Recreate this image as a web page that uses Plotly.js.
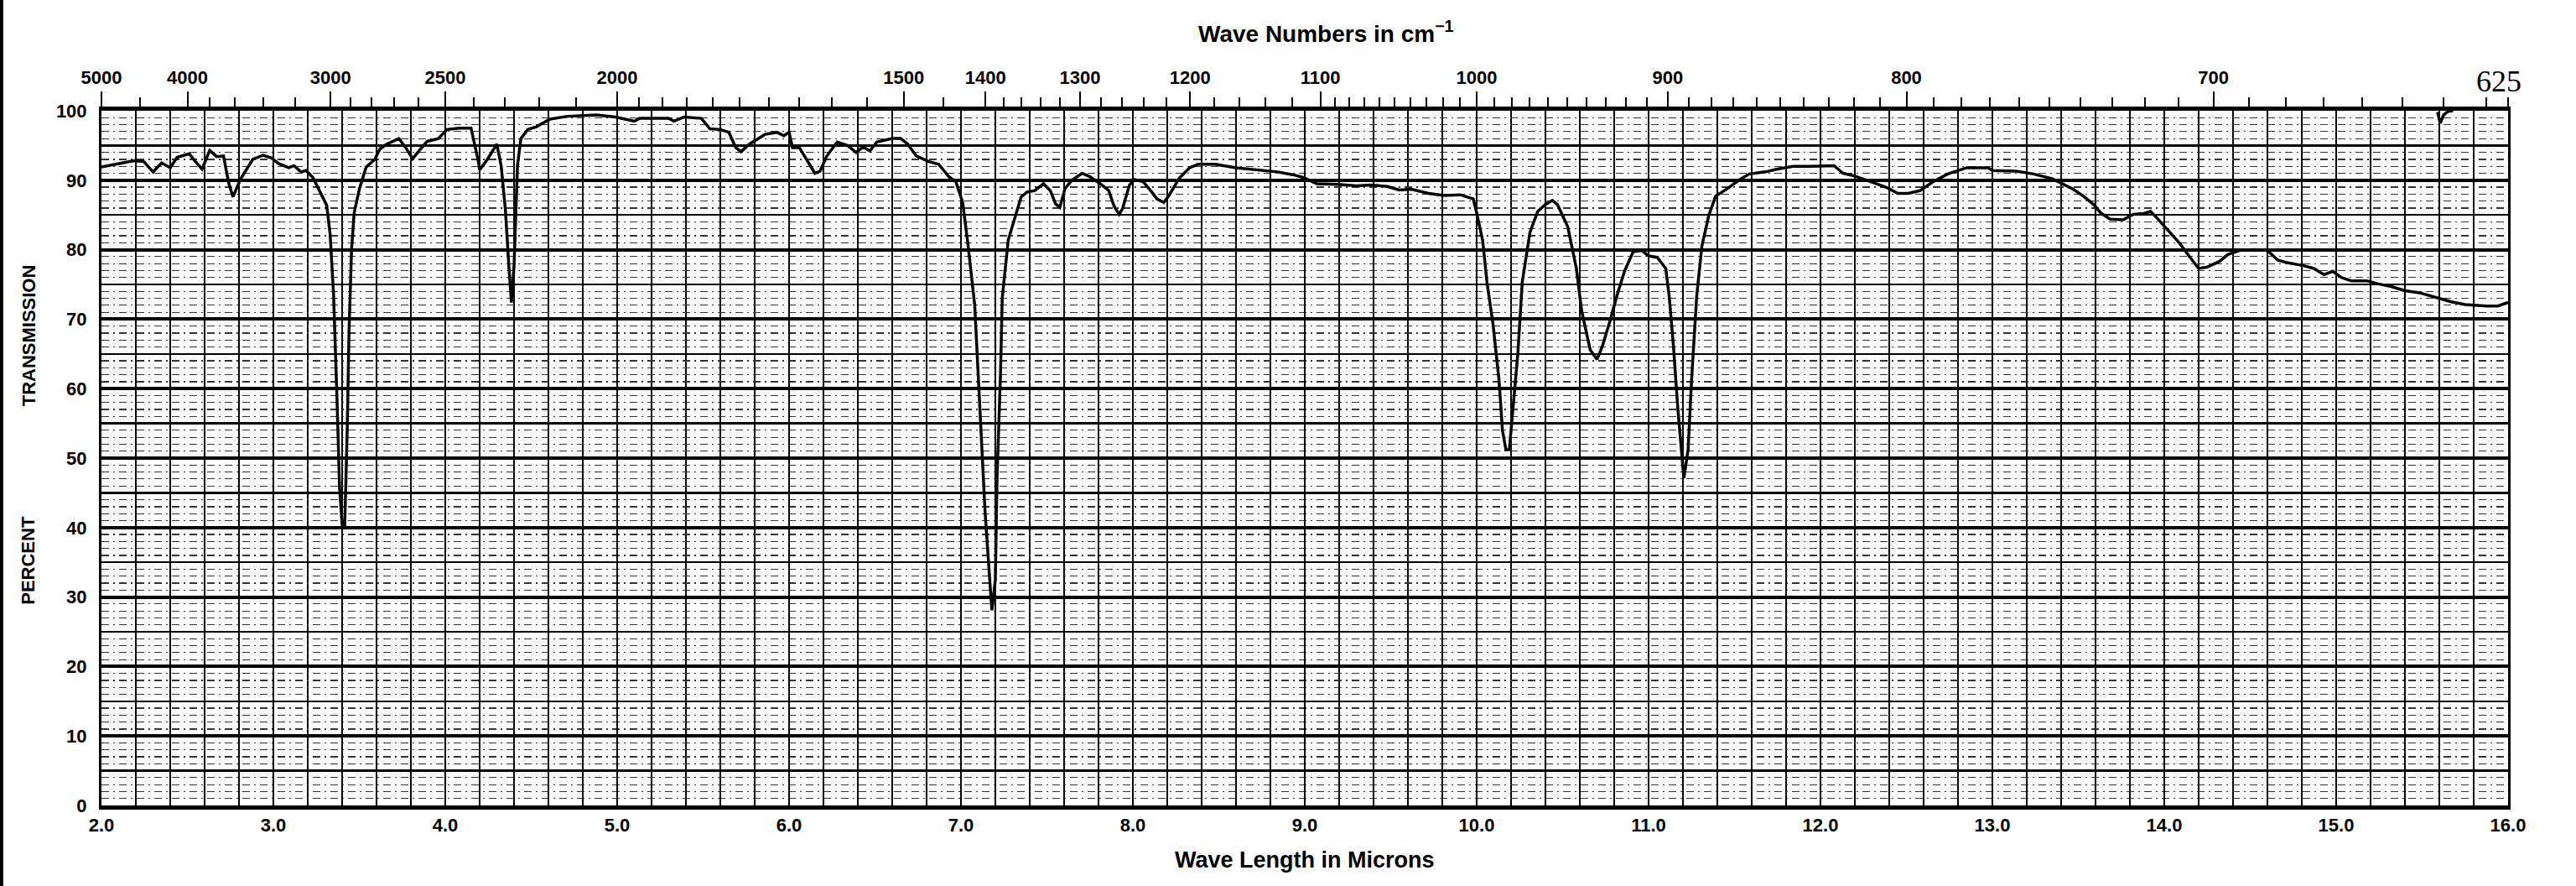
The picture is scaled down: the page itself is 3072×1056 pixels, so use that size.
<!DOCTYPE html>
<html>
<head>
<meta charset="utf-8">
<script src="https://cdn.plot.ly/plotly-3.0.1.min.js"></script>
<style>html,body{margin:0;padding:0;background:#fff;}#chart{width:3072px;height:1056px;}</style>
</head>
<body>
<div id="chart"></div>
<script>
// Spectrum: wavelength (microns) and percent transmission
const wavelength = [
2.00,2.07,2.19,2.245,2.30,2.35,2.40,2.44,2.51,2.55,2.585,2.63,2.67,2.71,2.74,2.765,2.81,2.88,2.94,2.99,
3.03,3.09,3.12,3.16,3.19,3.23,3.27,3.31,3.33,3.35,3.37,3.385,3.40,3.415,3.43,3.44,3.455,3.47,3.50,3.54,
3.59,3.62,3.66,3.73,3.77,3.81,3.85,3.895,3.96,4.01,4.08,4.15,4.19,4.20,4.245,4.30,4.325,4.35,4.37,4.385,
4.40,4.42,4.44,4.48,4.53,4.61,4.71,4.88,4.99,5.10,5.13,5.30,5.33,5.39,5.49,5.54,
5.60,5.65,5.69,5.72,5.77,5.82,5.86,5.93,5.97,6.00,6.02,6.06,6.11,6.15,6.18,6.22,6.28,6.34,6.39,6.43,
6.47,6.51,6.60,6.65,6.69,6.74,6.81,6.87,6.93,6.97,7.01,7.04,7.08,7.11,7.14,7.17,7.18,7.20,7.21,7.23,
7.24,7.275,7.315,7.35,7.385,7.43,7.48,7.52,7.55,7.575,7.605,7.645,7.705,7.75,7.81,7.86,7.89,7.92,7.94,7.98,
8.01,8.06,8.11,8.14,8.18,8.21,8.27,8.33,8.38,8.48,8.60,8.72,8.84,8.93,8.99,9.07,9.19,
9.30,9.385,9.48,9.55,9.62,9.72,9.81,9.905,9.98,10.00,10.035,10.06,10.095,10.13,10.15,10.17,10.19,10.21,10.24,10.265,
10.31,10.355,10.40,10.44,10.47,10.53,10.58,10.61,10.66,10.70,10.73,10.78,10.815,10.86,10.91,10.96,11.00,11.05,11.10,11.12,
11.145,11.17,11.19,11.205,11.23,11.25,11.28,11.31,11.35,11.39,11.465,11.525,11.585,11.68,11.75,11.84,11.94,12.08,12.13,12.20,
12.29,12.39,12.45,12.51,12.58,12.65,12.74,12.85,12.975,
13.00,13.14,13.24,13.35,13.41,13.47,13.53,13.59,13.63,13.685,13.76,13.82,13.88,13.92,13.96,14.02,14.09,14.15,14.20,14.25,
14.32,14.37,14.44,14.52,14.60,14.66,14.72,14.81,14.87,14.93,14.98,15.03,15.09,15.18,15.24,15.32,15.40,15.485,15.59,15.67,
15.75,15.81,15.875,15.94,16.00
];
const transmission = [
91.9,92.2,92.8,92.7,91.2,92.5,91.8,93.3,93.8,92.6,91.6,94.3,93.4,93.5,89.6,87.6,90.2,93.0,93.6,93.2,
92.4,91.8,92.1,91.2,91.4,90.4,88.3,86.4,82.3,73.7,58.7,45.8,40.4,40.2,54.4,68.1,80.1,85.3,88.7,91.9,
93.0,94.5,95.2,96.0,94.7,93.1,94.3,95.6,96.0,97.3,97.5,97.5,93.0,91.5,93.0,95.2,92.1,85.7,77.6,72.4,
77.6,92.1,96.0,97.3,97.7,98.8,99.2,99.4,99.1,98.5,98.9,98.9,98.5,99.1,98.9,97.4,
97.3,96.9,94.7,94.1,95.2,96.0,96.6,96.9,96.4,96.9,94.7,94.7,92.7,91.0,91.3,93.5,95.5,95.0,94.0,94.8,
94.2,95.5,96.0,96.0,95.2,93.5,92.7,92.3,90.5,89.8,86.8,80.9,72.0,57.2,42.4,31.5,28.1,32.5,47.3,62.1,
73.0,81.4,84.8,87.6,88.3,88.5,89.5,88.5,86.6,86.1,88.8,90.0,91.0,90.5,89.5,88.5,86.3,85.1,85.9,89.3,
90.1,89.8,88.3,87.3,86.8,87.8,90.3,91.8,92.3,92.3,91.8,91.5,91.2,90.8,90.4,89.5,89.4,
89.2,89.3,89.1,88.6,88.7,88.1,87.8,87.9,87.3,85.3,81.3,75.3,69.3,61.2,54.0,51.2,51.2,57.2,65.2,75.3,
82.5,85.5,86.5,87.1,86.5,83.3,77.3,71.3,65.6,64.2,66.0,70.1,73.3,76.9,79.7,79.9,79.1,78.9,77.3,73.3,
66.0,57.2,51.2,47.1,51.2,61.2,73.3,80.5,84.9,87.7,88.9,90.0,90.9,91.2,91.6,92.0,92.0,92.1,91.0,90.6,
89.8,88.9,88.1,88.1,88.5,89.7,90.9,91.8,91.8,
91.4,91.3,90.9,90.2,89.5,88.7,87.7,86.5,85.3,84.4,84.3,85.1,85.2,85.5,84.5,82.9,80.9,78.9,77.3,77.5,
78.3,79.3,79.9,80.0,79.9,78.5,78.1,77.7,77.3,76.4,76.9,76.0,75.5,75.5,75.1,74.7,74.1,73.8,73.1,72.5,
72.1,72.0,71.9,71.9,72.4
];
// Small pen stroke near the top right corner
const penMarkWavelength = [15.59, 15.605, 15.625, 15.65, 15.68];
const penMarkTransmission = [99.8, 98.2, 99.4, 99.9, 100.0];

// Bottom axis labels (microns)
const micronTicks = [2,3,4,5,6,7,8,9,10,11,12,13,14,15,16];
const micronLabels = ["2.0","3.0","4.0","5.0","6.0","7.0","8.0","9.0","10.0","11.0","12.0","13.0","14.0","15.0","16.0"];
// Top axis (wave numbers, cm-1)
const waveNumberLabelled = [5000,4000,3000,2500,2000,1500,1400,1300,1200,1100,1000,900,800,700];
const waveNumberMinor = [4500,3800,3600,3400,3200,
  2900,2800,2700,2600,2400,2300,2200,2100,
  1950,1900,1850,1800,1750,1700,1650,1600,1550,1450,
  1380,1360,1340,1320,1280,1260,1240,1220,1180,1160,1140,1120,
  1090,1080,1070,1060,1050,1040,1030,1020,1010,
  990,980,970,960,950,940,930,920,910,
  890,880,870,860,850,840,830,820,810,
  790,780,770,760,750,740,730,720,710,
  690,680,670,660,650,640,630,625];
// Left axis labels
const percentTicks = [0,10,20,30,40,50,60,70,80,90,100];

const toMicrons = w => 10000 / w;
const FONT = 'Liberation Sans, Arial, sans-serif';

const traces = [
  {x: wavelength, y: transmission, type: 'scatter', mode: 'lines', xaxis: 'x', yaxis: 'y',
   line: {color: '#000', width: 3.5, shape: 'linear'}, hoverinfo: 'skip'},
  {x: penMarkWavelength, y: penMarkTransmission, type: 'scatter', mode: 'lines', xaxis: 'x2', yaxis: 'y2',
   line: {color: '#000', width: 3.5}, hoverinfo: 'skip'}
];

const layout = {
  width: 3072, height: 1056,
  paper_bgcolor: '#fff', plot_bgcolor: '#fff',
  showlegend: false,
  margin: {l: 121, r: 81, t: 132, b: 96, pad: 0},
  font: {family: FONT, color: '#000'},
  xaxis: {
    range: [2, 16], tickmode: 'array', tickvals: micronTicks, ticktext: micronLabels,
    ticks: '', showgrid: true, gridcolor: '#000', gridwidth: 2.5,
    minor: {tick0: 2, dtick: 0.2, showgrid: true, gridcolor: '#000', gridwidth: 2},
    showline: true, linecolor: '#000', linewidth: 5, mirror: true, zeroline: false,
    tickfont: {family: FONT, size: 22, weight: 'bold', color: '#000'}, ticklabelstandoff: 0
  },
  xaxis2: {
    overlaying: 'x', side: 'top', anchor: 'y2', range: [2, 16],
    tickmode: 'array', tickvals: waveNumberLabelled.map(toMicrons), ticktext: waveNumberLabelled.map(String),
    ticks: 'outside', ticklen: 22, tickwidth: 2, tickcolor: '#000',
    minor: {tickmode: 'array', tickvals: waveNumberMinor.map(toMicrons), ticks: 'outside', ticklen: 15, tickwidth: 2, tickcolor: '#000', showgrid: false},
    showgrid: false, showline: false, zeroline: false,
    tickfont: {family: FONT, size: 22, weight: 'bold', color: '#000'}
  },
  yaxis: {
    range: [0, 100], tickmode: 'array', tickvals: percentTicks, ticktext: percentTicks.map(String),
    ticks: '', showgrid: true, gridcolor: '#000', gridwidth: 4,
    minor: {tick0: 0, dtick: 1, showgrid: true, gridcolor: '#333', gridwidth: 1.2, griddash: '9px,5px,2px,5px'},
    showline: true, linecolor: '#000', linewidth: 3, mirror: true, zeroline: false,
    tickfont: {family: FONT, size: 22, weight: 'bold', color: '#000'}, ticklabelstandoff: 10
  },
  yaxis2: {
    overlaying: 'y', anchor: 'x2', range: [0, 100], tick0: 0, dtick: 5,
    showgrid: true, gridcolor: '#000', gridwidth: 2.5, showticklabels: false, ticks: '',
    zeroline: false, showline: false
  },
  annotations: [
    {text: '<b>Wave Numbers in cm<sup>−1</sup></b>', xref: 'paper', yref: 'paper', x: 0.509, y: 1.113,
     xanchor: 'center', yanchor: 'middle',
     showarrow: false, font: {family: FONT, size: 28, color: '#000'}},
    {text: '<b>Wave Length in Microns</b>', xref: 'paper', yref: 'paper', x: 0.5, y: -0.0785,
     xanchor: 'center', yanchor: 'middle',
     showarrow: false, font: {family: FONT, size: 27, color: '#000'}},
    {text: '<b>TRANSMISSION</b>', xref: 'paper', yref: 'paper', x: -0.0303, y: 0.676, textangle: -90,
     xanchor: 'center', yanchor: 'middle',
     showarrow: false, font: {family: FONT, size: 22, color: '#000'}},
    {text: '<b>PERCENT</b>', xref: 'paper', yref: 'paper', x: -0.0303, y: 0.353, textangle: -90,
     xanchor: 'center', yanchor: 'middle',
     showarrow: false, font: {family: FONT, size: 22, color: '#000'}},
    {text: '625', xref: 'paper', yref: 'paper', x: 0.9962, y: 1.042,
     xanchor: 'center', yanchor: 'middle',
     showarrow: false, font: {family: 'Liberation Serif, serif', size: 36, color: '#000'}}
  ],
  shapes: [
    {type: 'line', xref: 'paper', yref: 'paper', x0: -0.0415, x1: -0.0415, y0: -0.116, y1: 1.16,
     line: {color: '#000', width: 4}}
  ]
};

Plotly.newPlot('chart', traces, layout, {staticPlot: true, displayModeBar: false});
</script>
</body>
</html>
